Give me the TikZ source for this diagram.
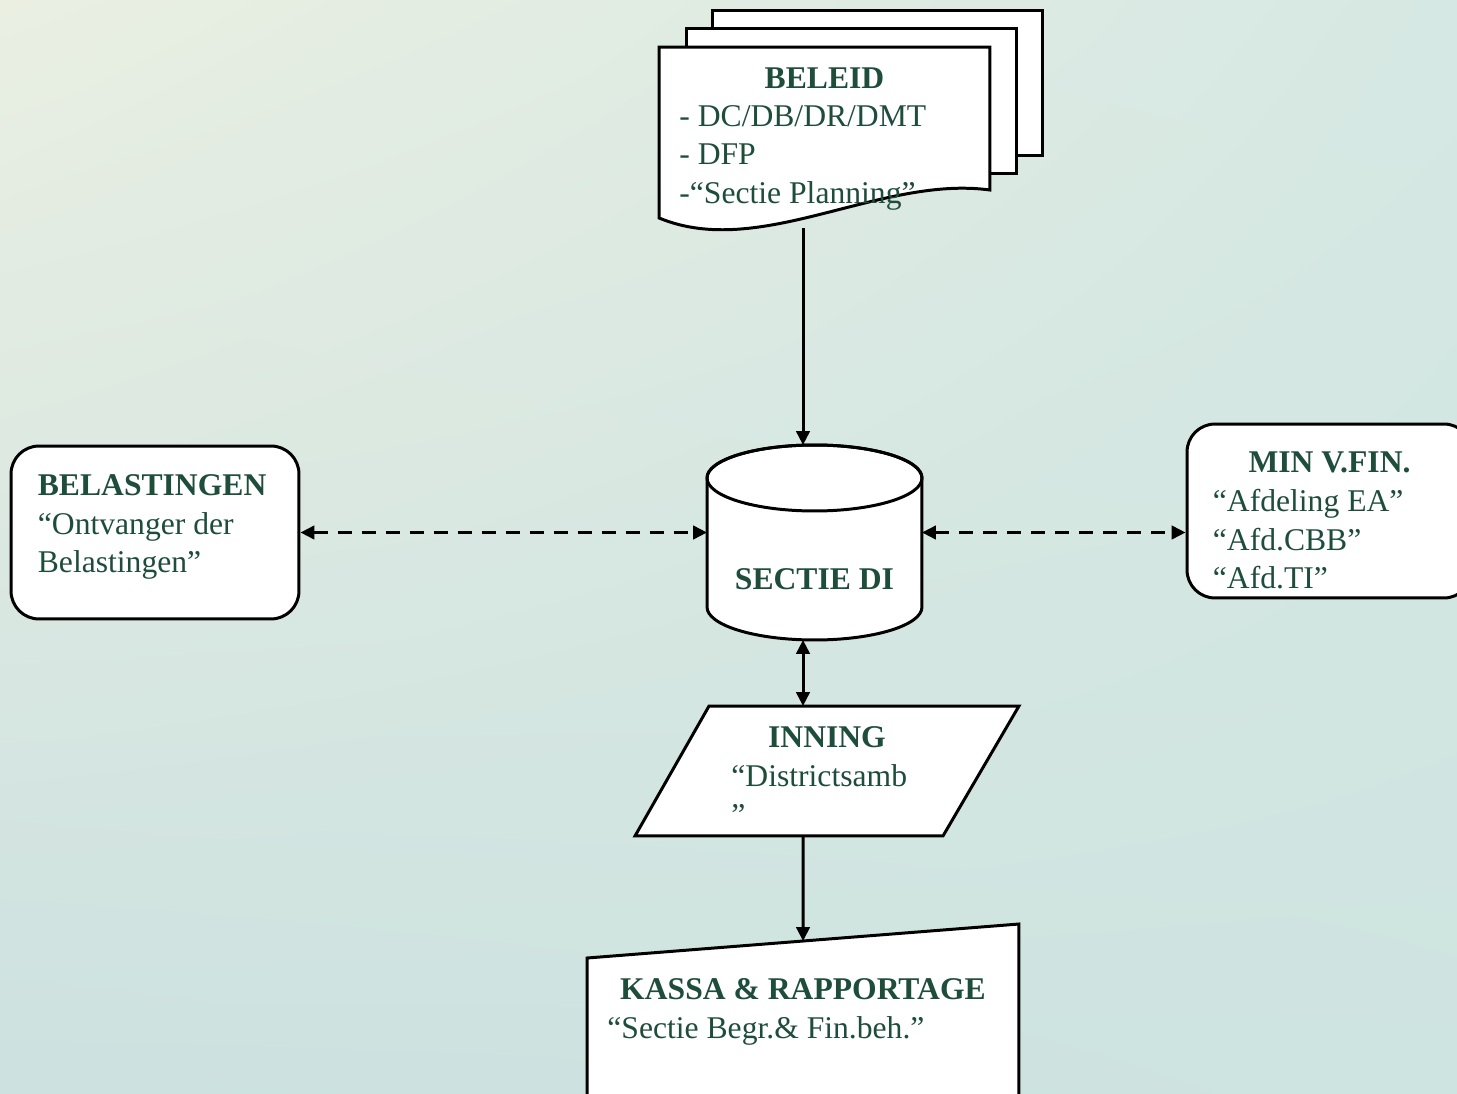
\documentclass[tikz,border=0pt]{standalone}
\usepackage{fontspec}
\setmainfont{Liberation Serif}
\usetikzlibrary{arrows.meta, calc, positioning, shadings}
\definecolor{inkgreen}{RGB}{31,77,59}
\definecolor{bgul}{RGB}{234,239,226}
\definecolor{bgur}{RGB}{214,232,227}
\definecolor{bgll}{RGB}{204,225,224}
\definecolor{bglr}{RGB}{206,228,224}
\newcommand{\slidefont}{\fontsize{18}{21.9}\selectfont}

\begin{document}
\begin{tikzpicture}[
    x=0.02cm, y=-0.02cm,
    >={Triangle[length=2.8mm,width=2.7mm]},
    font=\slidefont,
    shapeline/.style={draw, line width=1.7pt, fill=white},
    roundbox/.style={shapeline, rounded corners=0.56cm},
    frame/.style={inner sep=0pt, outer sep=0pt},
    conn/.style={line width=1.7pt},
    dashconn/.style={conn, dash pattern=on 2.8mm off 2mm},
    txt/.style={text=inkgreen, inner sep=0pt, align=left, anchor=base west},
    ttl/.style={text=inkgreen, inner sep=0pt, anchor=base, font=\slidefont\bfseries},
]

% ---------------- page and background ----------------------------------
\useasboundingbox (0,0) rectangle (1457,1094);
\clip (0,0) rectangle (1457,1094);
\shade[upper left=bgul, upper right=bgur, lower left=bgll, lower right=bglr]
    (0,0) rectangle (1457,1094);

% ---------------- frames of the shapes ---------------------------------
\node[frame, minimum width=6.62cm, minimum height=3.42cm] (beleid) at (824.5,132.5) {};
\node[frame, minimum width=4.3cm,  minimum height=3.9cm]  (di)     at (814.5,542.5) {};
\node[roundbox, minimum width=5.76cm, minimum height=3.46cm] (belast) at (155,532.5) {};
\node[roundbox, minimum width=5.7cm,  minimum height=3.48cm] (minfin) at (1329.5,511) {};
\node[frame, minimum width=7.68cm, minimum height=2.6cm]  (inning) at (827,771) {};
\node[frame, minimum width=8.64cm, minimum height=3.72cm] (kassa)  at (803,1017) {};

% ---------------- BELEID: stack of documents ---------------------------
\foreach \dx/\dy in {53/-37, 27/-19} {%
    \draw[shapeline] ($(beleid.north west)+(\dx,\dy)$)
        rectangle ($(beleid.north east)+(\dx,\dy+145)$);
}
\draw[shapeline] (beleid.north west) -- (beleid.north east)
    -- ($(beleid.north east)+(0,143)$)
    .. controls ($(beleid.south)+(55.5,-43)$) and ($(beleid.south)+(-64.5,42)$)
    .. (beleid.south west) -- cycle;

\node[ttl] (beleidttl) at ($(beleid.north)+(0,41)$) {BELEID};
\node[txt] (beleidtxt) at ($(beleid.north west)+(20,156)$)
    {- DC/DB/DR/DMT\\- DFP\\-“Sectie Planning”};

\coordinate (beleidout) at ($(beleid.south)+(-21.5,10)$);

% ---------------- SECTIE DI: cylinder ----------------------------------
\draw[shapeline] ($(di.west)+(0,-64.5)$) -- ($(di.west)+(0,64.5)$)
    arc[start angle=180, end angle=360, x radius=2.15cm, y radius=0.66cm]
    -- ($(di.east)+(0,-64.5)$)
    arc[start angle=0, end angle=180, x radius=2.15cm, y radius=0.66cm] -- cycle;
\draw[conn] ($(di.center)+(0,-64.5)$) ellipse[x radius=2.15cm, y radius=0.66cm];

\node[ttl] (dittl) at ($(di.center)+(0,46.5)$) {SECTIE DI};

% ---------------- side boxes -------------------------------------------
\node[txt] (belasttxt) at ($(belast.north west)+(28,128)$)
    {\textbf{BELASTINGEN}\\“Ontvanger der\\Belastingen”};

\node[ttl] (minfinttl) at ($(minfin.north)+(0,50)$) {MIN V.FIN.};
\node[txt] (minfintxt) at ($(minfin.north west)+(27,166)$)
    {“Afdeling EA”\\“Afd.CBB”\\“Afd.TI”};

% ---------------- INNING: parallelogram --------------------------------
\draw[shapeline] ($(inning.north west)+(74,0)$) -- (inning.north east)
    -- ($(inning.south east)+(-76,0)$) -- (inning.south west) -- cycle;

\node[ttl] (inningttl) at ($(inning.north)+(0,41)$) {INNING};
\node[txt] (inningtxt) at ($(inning.north west)+(96,119)$)
    {“Districtsamb\\”};

% ---------------- KASSA: manual input ----------------------------------
\draw[shapeline] ($(kassa.north west)+(0,34)$) -- (kassa.north east)
    -- (kassa.south east) -- (kassa.south west) -- cycle;
\coordinate (kassain) at ($(kassa.north west)+(216,17)$);

\node[ttl] (kassattl) at ($(kassa.north)+(0,75)$) {KASSA \& RAPPORTAGE};
\node[txt] (kassatxt) at ($(kassa.north west)+(20,114)$)
    {“Sectie Begr.\& Fin.beh.”};

% ---------------- connectors -------------------------------------------
\draw[->, conn] (beleidout) -- (beleidout |- di.north);
\draw[<->, conn] (beleidout |- di.south) -- (beleidout |- inning.north);
\draw[->, conn] (beleidout |- inning.south) -- (kassain);

\draw[<->, dashconn] (belast.east) -- (belast.east -| di.west);
\draw[<->, dashconn] (belast.east -| di.east) -- (belast.east -| minfin.west);

\end{tikzpicture}
\end{document}
